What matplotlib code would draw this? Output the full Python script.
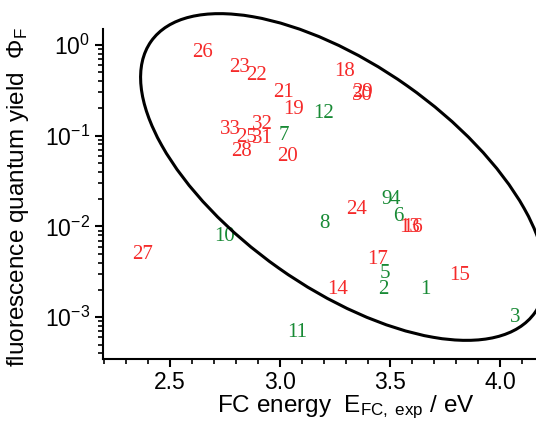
import matplotlib
matplotlib.use('Agg')
import matplotlib.pyplot as plt
from matplotlib.patches import Ellipse
from matplotlib.ticker import MultipleLocator, LogLocator, LogFormatterMathtext, NullFormatter

plt.rcParams['font.family'] = ['Liberation Sans', 'DejaVu Sans']
plt.rcParams['mathtext.fontset'] = 'custom'
plt.rcParams['mathtext.rm'] = 'Liberation Sans'
plt.rcParams['mathtext.it'] = 'Liberation Sans:italic'
plt.rcParams['mathtext.default'] = 'regular'

# 绿色化合物 1-12
green_ids = ['1', '2', '3', '4', '5', '6', '7', '8', '9', '10', '11', '12']
green_e = [3.659, 3.468, 4.068, 3.523, 3.477, 3.536, 3.018, 3.20, 3.486, 2.75, 3.077, 3.20]
green_phi = [0.0020, 0.0020, 0.0010, 0.0198, 0.0030, 0.0129, 0.100, 0.0108, 0.0200, 0.0078, 0.00068, 0.175]

# 红色化合物 13-33
red_ids = ['13', '14', '15', '16', '17', '18', '19', '20', '21', '22', '23',
           '24', '25', '26', '27', '28', '29', '30', '31', '32', '33']
red_e = [3.59, 3.264, 3.818, 3.605, 3.445, 3.295, 3.06, 3.036, 3.018, 2.895, 2.818,
         3.35, 2.85, 2.65, 2.377, 2.827, 3.373, 3.375, 2.918, 2.918, 2.773]
red_phi = [0.0097, 0.00204, 0.0029, 0.0097, 0.00434, 0.505, 0.193, 0.059, 0.297, 0.457, 0.56,
           0.0154, 0.095, 0.817, 0.0049, 0.067, 0.297, 0.275, 0.093, 0.132, 0.116]

fig = plt.figure(figsize=(5.36, 4.32), dpi=100)
ax = fig.add_axes([0.192, 0.169, 0.808, 0.764])
ax.set_yscale('log')
ax.set_xlim(2.195, 4.164)
ax.set_ylim(10 ** -3.46, 10 ** 0.176)

for s, x, y in zip(green_ids, green_e, green_phi):
    ax.text(x, y, s, color='#188a35', fontsize=15, family='Liberation Serif',
            ha='center', va='center')
for s, x, y in zip(red_ids, red_e, red_phi):
    ax.text(x, y, s, color='#f52a2a', fontsize=15, family='Liberation Serif',
            ha='center', va='center')

# 椭圆（图中的手绘标记）
ell = Ellipse((3.43, 2.55), width=4.70, height=2.23, angle=-35.25,
              transform=fig.dpi_scale_trans, fill=False, lw=2.2, color='black', clip_on=False)
fig.patches.append(ell)

ax.spines['top'].set_visible(False)
ax.spines['right'].set_visible(False)
ax.spines['left'].set_linewidth(1.5)
ax.spines['bottom'].set_linewidth(1.5)

ax.xaxis.set_major_locator(MultipleLocator(0.5))
ax.xaxis.set_minor_locator(MultipleLocator(0.1))
ax.yaxis.set_major_locator(LogLocator(base=10))
ax.yaxis.set_minor_locator(LogLocator(base=10, subs=range(2, 10)))
ax.yaxis.set_major_formatter(LogFormatterMathtext())
ax.yaxis.set_minor_formatter(NullFormatter())
ax.tick_params(which='major', length=6, width=1.5, labelsize=16.5, direction='out', pad=3)
ax.tick_params(which='minor', length=3.5, width=1.2, direction='out')

ax.set_xlabel(r'FC energy  E$_{FC,\ exp}$ / eV', fontsize=17.5)
ax.xaxis.set_label_coords(0.56, -0.105)
ax.set_ylabel(r'fluorescence quantum yield  $\Phi_F$', fontsize=17.5)
ax.yaxis.set_label_coords(-0.165, 0.49)

fig.savefig('out.png', dpi=100)
